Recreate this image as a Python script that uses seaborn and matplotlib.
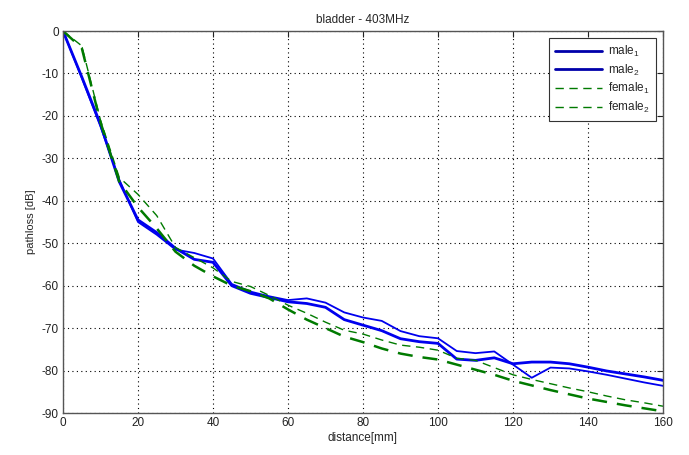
import numpy as np
import pandas as pd
import matplotlib
matplotlib.use("Agg")
import matplotlib.pyplot as plt
import seaborn as sns

distance = list(range(0, 161, 5))

male_1 = [0, -11, -22.5, -35, -45, -48, -51.5, -52.3, -53.6, -59.6, -61.4, -62.5,
          -63.4, -63.0, -64.0, -66.3, -67.5, -68.3, -70.7, -71.9, -72.4, -75.4,
          -75.9, -75.5, -78.6, -81.7, -79.3, -79.5, -80.2, -81.0, -81.9, -82.8, -83.6]
male_2 = [0, -10.8, -22, -35.5, -44.5, -47.5, -51.2, -53.8, -54.5, -60, -61.8, -62.8,
          -63.8, -64.2, -65.1, -68, -69.3, -70.6, -72.5, -73.2, -73.6, -77.3,
          -77.6, -77.0, -78.4, -78.0, -78.0, -78.4, -79.2, -80.1, -80.8, -81.5, -82.3]
female_1 = [0, -3.5, -21, -34.5, -38.5, -43.5, -51.0, -53.4, -55.8, -59, -60.2, -62.3,
            -64.6, -66.5, -68.6, -70.5, -71.4, -72.8, -74, -74.5, -75.2, -77.1,
            -77.6, -79.3, -81.0, -82.1, -83.1, -84.1, -85.0, -86.0, -86.9, -87.6, -88.4]
female_2 = [0, -4, -21.5, -35.5, -41.5, -46.5, -52.0, -55.3, -57.8, -60, -61.3, -63,
            -65.6, -68, -70, -72, -73.3, -74.8, -76, -76.8, -77.4, -78.6,
            -79.8, -81, -82.4, -83.5, -84.6, -85.6, -86.6, -87.4, -88.2, -88.9, -89.6]

labels = ["male$_1$", "male$_2$", "female$_1$", "female$_2$"]
series = [male_1, male_2, female_1, female_2]

sns.set_style("white")
plt.rcParams['font.family'] = ['Liberation Sans', 'DejaVu Sans']
plt.rcParams['mathtext.fontset'] = 'custom'
plt.rcParams['mathtext.rm'] = 'Liberation Sans'
plt.rcParams['mathtext.it'] = 'Liberation Sans'
plt.rcParams['axes.unicode_minus'] = False

fig = plt.figure(figsize=(6.89, 4.55), dpi=100)
ax = fig.add_axes([63/689, 1 - 413/455, 600/689, 382/455])

styles = [
    dict(color="#0000ee", lw=1.3, ls="-"),
    dict(color="#0000ee", lw=2.0, ls="-"),
    dict(color="#007a00", lw=1.0, ls=(0, (6, 4))),
    dict(color="#007a00", lw=1.8, ls=(0, (6, 4))),
]
for lab, vals, st in zip(labels, series, styles):
    df = pd.DataFrame({"distance": distance, "pathloss": vals})
    sns.lineplot(data=df, x="distance", y="pathloss", ax=ax, label=lab,
                 color=st["color"], linewidth=st["lw"], linestyle=st["ls"])

ax.set_xlim(0, 160)
ax.set_ylim(-90, 0)
ax.set_xticks(range(0, 161, 20))
ax.set_yticks(range(-90, 1, 10))
ax.tick_params(direction="in", length=4, labelsize=8.5, colors="#222222",
               top=True, right=True, pad=3)
ax.grid(True, linestyle=(0, (1, 3)), color="black", linewidth=0.8)
for s in ax.spines.values():
    s.set_color("#555555")
    s.set_linewidth(1.0)

ax.set_xlabel("distance[mm]", fontsize=8.5, labelpad=2)
ax.set_ylabel("pathloss [dB]", fontsize=8, labelpad=4)
ax.set_title("bladder - 403MHz", fontsize=8.5, pad=6)

leg = ax.legend(loc="upper right", fontsize=8.5, frameon=True, fancybox=False,
                framealpha=1, edgecolor="#333333", borderpad=0.5,
                handlelength=4.0, handletextpad=0.5, labelspacing=0.3,
                borderaxespad=0.6)
leg.get_frame().set_linewidth(0.8)
for i, ln in enumerate(leg.get_lines()):
    if i < 2:
        ln.set_linewidth(2.0)
        ln.set_color("#0000aa")
    else:
        ln.set_linewidth(1.0)

fig.savefig("out.png", dpi=100)
